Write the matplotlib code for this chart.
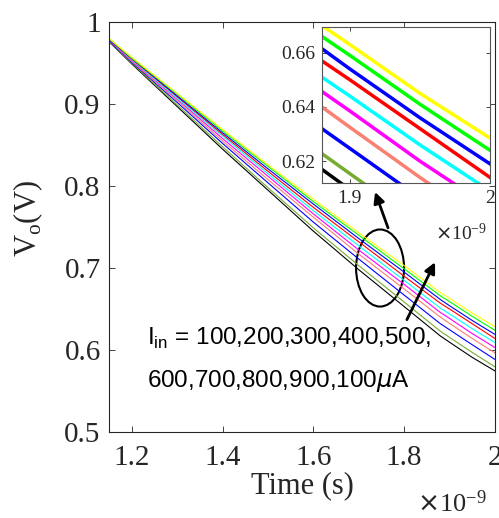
import matplotlib
matplotlib.use('Agg')
import matplotlib.pyplot as plt
from matplotlib.patches import Ellipse

plt.rcParams['font.family'] = 'Liberation Serif'

# time axis in ns (plotted with a x10^-9 note)
t_ns = [1.15, 1.20, 1.30, 1.40, 1.50, 1.60, 1.70, 1.80, 1.88, 1.90, 1.95, 2.00]

# output voltage (V), one list per curve, bottom curve first
v_black   = [0.976, 0.949, 0.897, 0.845, 0.795, 0.745, 0.698, 0.653, 0.617, 0.6095, 0.591, 0.5745]
v_olive   = [0.976, 0.950, 0.899, 0.848, 0.798, 0.749, 0.703, 0.6585, 0.6228, 0.6154, 0.597, 0.5795]
v_blue2   = [0.977, 0.951, 0.902, 0.852, 0.804, 0.756, 0.711, 0.667, 0.632, 0.6247, 0.6064, 0.5885]
v_salmon  = [0.978, 0.952, 0.904, 0.855, 0.808, 0.762, 0.717, 0.6745, 0.640, 0.6325, 0.614, 0.5965]
v_magenta = [0.978, 0.953, 0.906, 0.858, 0.812, 0.766, 0.722, 0.680, 0.6457, 0.6385, 0.620, 0.603]
v_cyan    = [0.979, 0.954, 0.907, 0.861, 0.815, 0.770, 0.727, 0.685, 0.651, 0.644, 0.626, 0.609]
v_red     = [0.979, 0.955, 0.909, 0.863, 0.818, 0.774, 0.732, 0.690, 0.657, 0.650, 0.632, 0.614]
v_blue    = [0.979, 0.956, 0.910, 0.865, 0.821, 0.778, 0.736, 0.695, 0.6615, 0.654, 0.636, 0.619]
v_green   = [0.980, 0.956, 0.912, 0.867, 0.824, 0.781, 0.740, 0.699, 0.666, 0.659, 0.641, 0.624]
v_yellow  = [0.980, 0.957, 0.913, 0.869, 0.826, 0.784, 0.743, 0.703, 0.670, 0.663, 0.645, 0.6285]

curves = [v_black, v_olive, v_blue2, v_salmon, v_magenta, v_cyan, v_red, v_blue, v_green, v_yellow]
colors = ['k', '#77AC30', '#0000FF', '#FA8072', '#FF00FF', '#00FFFF', '#FF0000', '#0000FF', '#00FF00', '#FFFF00']

main_xticks = [1.2, 1.4, 1.6, 1.8, 2.0]
main_yticks = [0.5, 0.6, 0.7, 0.8, 0.9, 1.0]
inset_xticks = [1.9, 2.0]
inset_yticks = [0.62, 0.64, 0.66]

axcol = '#262626'

fig = plt.figure(figsize=(4.99, 5.18), dpi=100)
ax = fig.add_axes([0.2184, 0.166, 0.7735, 0.7915])

for v, c in zip(curves, colors):
    ax.plot(t_ns, v, color=c, lw=0.8)

ax.set_xlim(1.15, 2.0)
ax.set_ylim(0.5, 1.0)
ax.set_xticks(main_xticks)
ax.set_xticklabels(['%g' % x for x in main_xticks])
ax.set_yticks(main_yticks)
ax.set_yticklabels(['%g' % y for y in main_yticks])
ax.tick_params(direction='in', length=4, width=0.6, top=True, right=True,
               labelsize=21, colors=axcol)
ax.tick_params(axis='x', pad=9)
ax.tick_params(axis='y', pad=6)
for s in ax.spines.values():
    s.set_color(axcol)
    s.set_linewidth(0.8)

ax.set_xlabel('Time (s)', fontsize=22, color=axcol)
ax.xaxis.set_label_coords(0.5, -0.095)
ax.set_ylabel(r'V$_\mathregular{o}$(V)', fontsize=22, color=axcol)
ax.yaxis.set_label_coords(-0.166, 0.52)
fig.text(487 / 499, 1 - 512 / 518, r'$\times\mathregular{10^{-9}}$', ha='right', va='baseline',
         fontsize=19, color=axcol)

# ellipse + arrows + note
ax.add_patch(Ellipse((1.747, 0.700), 0.1057, 0.094, fill=False, lw=1.5, color='k'))
ax.annotate('', xy=(1.736, 0.7927), xytext=(1.7645, 0.749),
            arrowprops=dict(arrowstyle='-|>', color='k', lw=2, mutation_scale=16, shrinkA=0, shrinkB=0))
ax.annotate('', xy=(1.868, 0.707), xytext=(1.806, 0.637),
            arrowprops=dict(arrowstyle='-|>', color='k', lw=2, mutation_scale=16, shrinkA=0, shrinkB=0))
ax.text(1.234, 0.606, r'I$_\mathregular{in}$ = 100,200,300,400,500,', family='Liberation Sans',
        fontsize=17.5, va='baseline')
ax.text(1.234, 0.555, r'600,700,800,900,100$\mu$A', family='Liberation Sans',
        fontsize=17.5, va='baseline')

# inset zoom
axi = fig.add_axes([0.645, 0.647, 0.337, 0.301])
for v, c in zip(curves, colors):
    axi.plot(t_ns, v, color=c, lw=2.5)
axi.set_xlim(1.88, 2.0)
axi.set_ylim(0.612, 0.6695)
axi.set_xticks(inset_xticks)
axi.set_xticklabels(['%g' % x for x in inset_xticks])
axi.set_yticks(inset_yticks)
axi.set_yticklabels(['%g' % y for y in inset_yticks])
axi.tick_params(direction='in', length=3, width=0.6, top=True, right=True,
                labelsize=14, colors=axcol, pad=5)
for s in axi.spines.values():
    s.set_color('#555555')
    s.set_linewidth(0.8)
fig.text(487 / 499, 1 - 240 / 518, r'$\times\mathregular{10^{-9}}$', ha='right', va='baseline',
         fontsize=14, color=axcol)

fig.savefig('out.png', dpi=100)
